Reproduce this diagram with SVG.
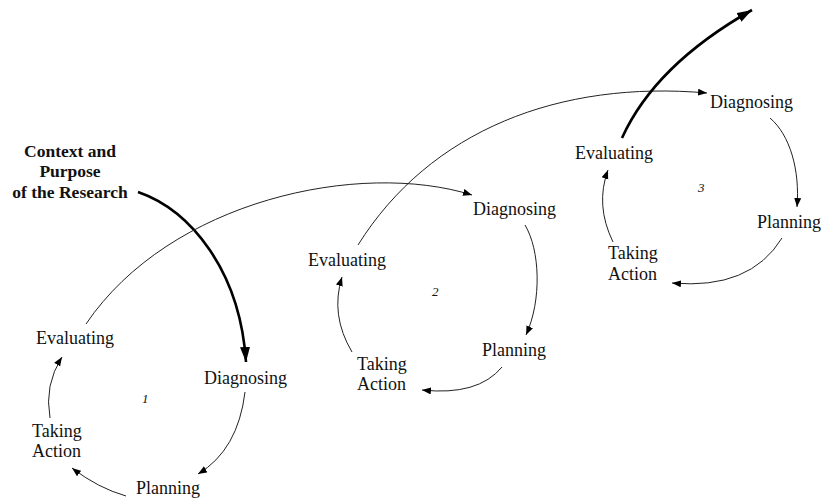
<svg xmlns="http://www.w3.org/2000/svg" width="821" height="499" viewBox="0 0 821 499">
<style>
text{fill:#111;}
.lbl{font-size:18px;}
.num{font-size:13px;font-style:italic;}
.ttl{font-size:17.5px;font-weight:bold;text-anchor:middle;}
.thin{fill:none;stroke:#222;stroke-width:1;}
.bold{fill:none;stroke:#000;stroke-width:2.6;}
</style>
<defs>
<marker id="a" markerUnits="userSpaceOnUse" markerWidth="10" markerHeight="8" refX="9" refY="3.5" orient="auto"><path d="M0,0 L9,3.5 L0,7 z" fill="#000"/></marker>
<marker id="b" markerUnits="userSpaceOnUse" markerWidth="16" markerHeight="12" refX="15" refY="5" orient="auto"><path d="M0,0 L15,5 L0,10 z" fill="#000"/></marker>
</defs>
<rect width="821" height="499" fill="#fff"/>
<g id="connectors">
<path class="bold" d="M138,192 C190,210 240,270 246,362" marker-end="url(#b)"/>
<path class="thin" d="M245,392 Q238,450 198,474" marker-end="url(#a)"/>
<path class="thin" d="M126,496 Q98,488 72,468" marker-end="url(#a)"/>
<path class="thin" d="M50,418 Q44,385 62,357" marker-end="url(#a)"/>
<path class="thin" d="M86,324 C170,200 360,160 472,195" marker-end="url(#a)"/>
<path class="thin" d="M525,225 C540,250 542,300 526,335" marker-end="url(#a)"/>
<path class="thin" d="M502,367 Q478,396 422,390" marker-end="url(#a)"/>
<path class="thin" d="M352,352 Q330,315 342,277" marker-end="url(#a)"/>
<path class="thin" d="M358,245 C430,130 560,80 707,93" marker-end="url(#a)"/>
<path class="thin" d="M770,118 C790,135 800,170 797,207" marker-end="url(#a)"/>
<path class="thin" d="M782,238 Q750,290 672,283" marker-end="url(#a)"/>
<path class="thin" d="M613,242 Q595,205 608,170" marker-end="url(#a)"/>
<path class="bold" d="M622,138 Q655,65 752,10" marker-end="url(#b)"/>
</g>
<g font-family="Liberation Serif, Times New Roman, serif">
<g id="context"><text class="ttl" x="70" y="157">Context and</text><text class="ttl" x="70" y="177">Purpose</text><text class="ttl" x="70" y="198">of the Research</text></g>
<g id="cycle1">
<g id="eval1"><text class="lbl" x="36" y="344">Evaluating</text></g>
<g id="diag1"><text class="lbl" x="204" y="384">Diagnosing</text></g>
<g id="num1"><text class="num" x="142" y="403">1</text></g>
<g id="take1"><text class="lbl" x="32" y="437">Taking</text><text class="lbl" x="32" y="457">Action</text></g>
<g id="plan1"><text class="lbl" x="136" y="494">Planning</text></g>
</g>
<g id="cycle2">
<g id="eval2"><text class="lbl" x="308" y="266">Evaluating</text></g>
<g id="diag2"><text class="lbl" x="473" y="215">Diagnosing</text></g>
<g id="num2"><text class="num" x="432" y="296">2</text></g>
<g id="take2"><text class="lbl" x="357" y="370">Taking</text><text class="lbl" x="357" y="390">Action</text></g>
<g id="plan2"><text class="lbl" x="482" y="356">Planning</text></g>
</g>
<g id="cycle3">
<g id="eval3"><text class="lbl" x="575" y="159">Evaluating</text></g>
<g id="diag3"><text class="lbl" x="710" y="108">Diagnosing</text></g>
<g id="num3"><text class="num" x="698" y="192">3</text></g>
<g id="take3"><text class="lbl" x="608" y="259">Taking</text><text class="lbl" x="608" y="280">Action</text></g>
<g id="plan3"><text class="lbl" x="757" y="228">Planning</text></g>
</g>
</g>
</svg>
